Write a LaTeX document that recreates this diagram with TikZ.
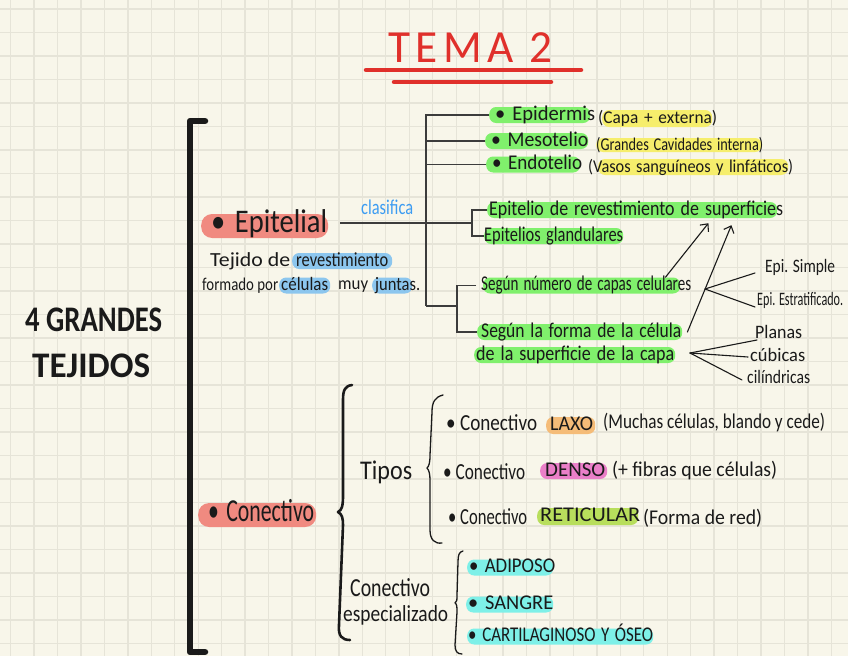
\documentclass[tikz,border=0pt]{standalone}
\usepackage{graphicx}
\usepackage{fontspec}
\setmainfont{Carlito}
\usetikzlibrary{arrows.meta}
\definecolor{paper}{HTML}{F8F6EA}
\definecolor{gridc}{HTML}{E6E4D8}
\definecolor{ink}{HTML}{1A1A1A}
\definecolor{hlgreen}{HTML}{80F06C}
\definecolor{hlyellow}{HTML}{F6EE6C}
\definecolor{hlred}{HTML}{F08A80}
\definecolor{hlblue}{HTML}{8CC6EE}
\definecolor{hlorange}{HTML}{F5BC78}
\definecolor{hlpink}{HTML}{EA7FC8}
\definecolor{hllime}{HTML}{B8DE5C}
\definecolor{hlcyan}{HTML}{7EF0E8}
\definecolor{titlered}{HTML}{E0302B}
\definecolor{bluetext}{HTML}{3C9CF2}
\newcommand{\hw}[2]{\resizebox{#1pt}{\height}{#2}}
\newcommand{\fs}[1]{\fontsize{#1pt}{#1pt}\selectfont}
\tikzset{
  hl/.style={fill=#1,rounded corners=7pt,inner sep=0pt,minimum height=16pt,anchor=west,
    align=left,text=ink,text height=12pt,text depth=2pt,font=\fs{21}},
  lbl/.style={inner sep=0pt,anchor=west,text=ink,font=\fs{20}},
  conn/.style={draw=ink!85,line width=1.2pt},
  fan/.style={draw=ink,line width=1.1pt,line cap=round},
  brace/.style={draw=ink,line width=1.3pt,line cap=round,line join=round},
  >={Straight Barb[length=6pt,width=11pt]}
}
\begin{document}
\begin{tikzpicture}[x=1pt,y=-1pt]
\useasboundingbox (0,0) rectangle (848,656);
\fill[paper] (0,0) rectangle (848,656);
\foreach \i in {0,...,35} \draw[gridc,line width=1.3pt] (10.6+23.45*\i,0) -- (10.6+23.45*\i,656);
\foreach \j in {0,...,27} \draw[gridc,line width=1.3pt] (0,9+23.5*\j) -- (848,9+23.5*\j);

% title
\node[lbl,text=titlered,font=\fs{46}\addfontfeatures{LetterSpace=12}] (tema) at (388,48) {\hw{164}{TEMA 2}};
\draw[titlered,line width=4.5pt,line cap=round] (366,70) -- (581,70);
\draw[titlered,line width=4.5pt,line cap=round] (394,82) -- (551,82);

\node[lbl,font=\fs{36}\bfseries] (grandes) at (25,320) {\hw{137}{4 GRANDES}};
\node[lbl,font=\fs{36}\bfseries] (tejidos) at (32,366) {\hw{118}{TEJIDOS}};
\draw[ink,line width=6.5pt,line cap=round,line join=round] (205,121) -- (190,121) -- (190,652) -- (205,652);

% epitelial
\node[hl=hlred,text width=127pt,minimum height=24pt,rounded corners=11pt,text height=17pt,text depth=4pt,font=\fs{33}] (epitelial) at (201,226) {\hspace*{10pt}\hw{116}{\textbullet\ Epitelial}};
\node[lbl] (tejido) at (210,261) {\hw{80}{Tejido de}};
\node[hl=hlblue,text width=100pt,font=\fs{20}] (revestim) at (292,261) {\hspace*{4pt}\hw{92}{revestimiento}};
\node[lbl,font=\fs{18}] (formado) at (202,286) {\hw{76}{formado por}};
\node[hl=hlblue,text width=51pt,font=\fs{19}] (celulas) at (279,285.5) {\hspace*{2pt}\hw{47}{células}};
\node[lbl,font=\fs{18}] (muy) at (338,287) {\hw{30}{muy}};
\node[hl=hlblue,text width=40pt,font=\fs{19}] (juntas) at (372,285.5) {\hspace*{3pt}\hw{45}{juntas.}};
\node[lbl,text=bluetext,font=\fs{21}] (clasifica) at (361,207) {\hw{52}{clasifica}};

\node[hl=hlgreen,text width=101pt] (epidermis) at (489,115) {\hspace*{6pt}\hw{100}{\textbullet\ Epidermis}};
\node[hl=hlyellow,text width=110pt,minimum height=17pt,font=\fs{18}] (externa) at (602,118.5) {\hspace*{-4pt}\hw{119}{(Capa + externa)}};
\node[hl=hlgreen,text width=103pt] (mesotelio) at (485,141) {\hspace*{6pt}\hw{97}{\textbullet\ Mesotelio}};
\node[hl=hlyellow,text width=166pt,minimum height=14pt,font=\fs{18}] (cavidades) at (596,145) {\hw{167}{(Grandes Cavidades interna)}};
\node[hl=hlgreen,text width=94pt] (endotelio) at (486,164.5) {\hspace*{6pt}\hw{90}{\textbullet\ Endotelio}};
\node[hl=hlyellow,text width=190pt,font=\fs{18}] (vasos) at (598,167) {\hspace*{-10pt}\hw{205}{(Vasos sanguíneos y linfáticos)}};
\node[hl=hlgreen,text width=290pt] (revest) at (487,210) {\hspace*{2pt}\hw{294}{Epitelio de revestimiento de superficies}};
\node[hl=hlgreen,text width=139pt] (glandular) at (484,236) {\hw{139}{Epitelios glandulares}};
\node[hl=hlgreen,text width=197pt] (numero) at (483,285.5) {\hspace*{-2pt}\hw{210}{Según número de capas celulares}};
\node[hl=hlgreen,text width=205pt] (forma) at (477,332) {\hspace*{4pt}\hw{200}{Según la forma de la célula}};
\node[hl=hlgreen,text width=201pt] (supercapa) at (474,355) {\hspace*{2pt}\hw{198}{de la superficie de la capa}};

\node[lbl,font=\fs{19}] (simple) at (765,267) {\hw{70}{Epi. Simple}};
\node[lbl,font=\fs{19}] (estratif) at (757,300) {\hw{86}{Epi. Estratificado.}};
\node[lbl,font=\fs{19}] (planas) at (755,332) {\hw{47}{Planas}};
\node[lbl,font=\fs{19}] (cubicas) at (750,355) {\hw{55}{cúbicas}};
\node[lbl,font=\fs{19}] (cilindricas) at (747,377) {\hw{63}{cilíndricas}};

\coordinate (trunkB) at (426,306);
\coordinate (splitA) at (472,223);
\coordinate (splitB) at (457,306);
\coordinate (capasJ) at (705,289);
\coordinate (formaJ) at (690,353);

\draw[conn] (epidermis.west) -| (trunkB);
\draw[conn] (mesotelio.west) -- (mesotelio.west -| trunkB);
\draw[conn] (endotelio.west) -- (endotelio.west -| trunkB);
\draw[conn] ([shift={(12pt,3pt)}]epitelial.east) -- (splitA);
\draw[conn] (revest.west) -| (splitA) |- (glandular.west);
\draw[conn] (trunkB) -- (splitB);
\draw[conn,shorten <=7pt] (numero.west) -| (splitB);
\draw[conn] (splitB) |- (forma.west);

\draw[fan,->] ([xshift=-15pt]numero.north east) -- ([shift={(-69pt,-5pt)}]revest.south east);
\draw[fan,->] ([xshift=5pt]forma.east) -- ([shift={(-46pt,-7pt)}]revest.south east);
\draw[fan] (capasJ) -- ([shift={(-10pt,-6pt)}]simple.west);
\draw[fan] (capasJ) -- ([shift={(-2pt,-7pt)}]estratif.west);
\draw[fan] (formaJ) -- ([shift={(2pt,-8pt)}]planas.west);
\draw[fan] (formaJ) -- ([shift={(-2pt,-2pt)}]cubicas.west);
\draw[fan] (formaJ) -- ([shift={(-5pt,-3pt)}]cilindricas.west);

% conectivo
\node[hl=hlred,text width=118pt,minimum height=24pt,rounded corners=11pt,text height=17pt,text depth=4pt,font=\fs{32}] (conectivo) at (198,515) {\hspace*{10pt}\hw{106}{\textbullet\ Conectivo}};
\draw[brace,line width=2.6pt] (352,385) .. controls (345,386) and (343,390) .. (343,400) -- (343,495) .. controls (343,506) and (342,510) .. (338,512) .. controls (342,514) and (343,518) .. (343,525) -- (339,625) .. controls (338,636) and (342,640) .. (350,640);
\node[lbl,font=\fs{27}] (tipos) at (360,472) {\hw{52}{Tipos}};
\draw[brace] (443,395) .. controls (435,397) and (432,402) .. (432,412) -- (430,455) .. controls (430,463) and (429,466) .. (427,468) .. controls (429,470) and (430,474) .. (430,480) -- (430,530) .. controls (430,540) and (435,544) .. (442,543);

\node[lbl,font=\fs{23}] (laxoc) at (446,423) {\hw{91}{\textbullet\ Conectivo}};
\node[hl=hlorange,text width=49pt,minimum height=17pt,font=\fs{21}] (laxo) at (546,425.5) {\hspace*{4pt}\hw{43}{LAXO}};
\node[lbl,font=\fs{21}] (laxot) at (603,423) {\hw{222}{(Muchas células, blando y cede)}};
\node[lbl,font=\fs{23}] (densoc) at (443,472) {\hw{82}{\textbullet\ Conectivo}};
\node[hl=hlpink,text width=67pt,font=\fs{21}] (denso) at (540,471) {\hspace*{5pt}\hw{60}{DENSO}};
\node[lbl,font=\fs{21}] (densot) at (612,471) {\hw{165}{(+ fibras que células)}};
\node[lbl,font=\fs{23}] (reticc) at (448,517) {\hw{79}{\textbullet\ Conectivo}};
\node[hl=hllime,text width=101pt,minimum height=17pt,font=\fs{21}] (reticular) at (537,516.5) {\hspace*{3pt}\hw{100}{RETICULAR}};
\node[lbl,font=\fs{21}] (reticf) at (643,518) {\hw{119}{(Forma de red)}};

\node[lbl,font=\fs{26}] (espec) at (350,588) {\hw{80}{Conectivo}};
\node[lbl,font=\fs{23}] (especb) at (343,615) {\hw{105}{especializado}};
\draw[brace] (463,551) .. controls (459,552) and (458,555) .. (458,562) -- (457,595) .. controls (457,600) and (457,602) .. (455,603) .. controls (457,604) and (457,607) .. (457,612) -- (455,645) .. controls (455,651) and (457,654) .. (462,654);

\node[hl=hlcyan,text width=86pt,font=\fs{21}] (adiposo) at (467,567.5) {\hspace*{2pt}\hw{86}{\textbullet\ ADIPOSO}};
\node[hl=hlcyan,text width=87pt,font=\fs{21}] (sangre) at (466,604.5) {\hspace*{2pt}\hw{85}{\textbullet\ SANGRE}};
\node[hl=hlcyan,text width=186pt,font=\fs{21}] (cartilago) at (467,636.5) {\hspace*{1pt}\hw{185}{\textbullet\ CARTILAGINOSO Y ÓSEO}};
\end{tikzpicture}
\end{document}
